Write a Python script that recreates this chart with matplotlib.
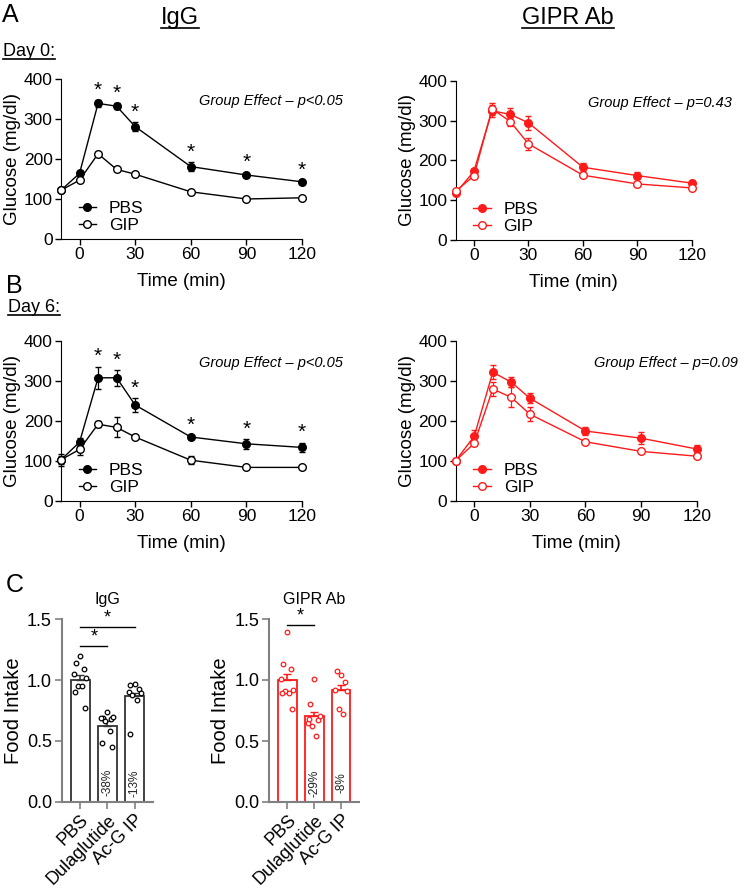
import matplotlib
matplotlib.use("Agg")
import matplotlib.pyplot as plt
from matplotlib.lines import Line2D
import numpy as np

plt.rcParams['font.family'] = ['Liberation Sans', 'DejaVu Sans']

# ---- glucose curves ----
t = [-10, 0, 10, 20, 30, 60, 90, 120]

igg_d0_pbs = [122, 164, 339, 332, 281, 181, 160, 143]
igg_d0_pbs_se = [4, 6, 8, 7, 12, 12, 6, 5]
igg_d0_gip = [122, 147, 213, 174, 162, 118, 100, 103]
igg_d0_gip_se = [4, 5, 5, 4, 3, 4, 3, 3]

gipr_d0_pbs = [118, 173, 325, 316, 295, 183, 162, 143]
gipr_d0_pbs_se = [5, 6, 15, 15, 18, 10, 8, 6]
gipr_d0_gip = [123, 161, 330, 298, 242, 163, 141, 131]
gipr_d0_gip_se = [4, 4, 15, 10, 15, 4, 4, 3]

igg_d6_pbs = [103, 147, 308, 308, 240, 160, 143, 134]
igg_d6_pbs_se = [10, 10, 28, 20, 18, 5, 12, 12]
igg_d6_gip = [103, 129, 192, 184, 160, 102, 84, 84]
igg_d6_gip_se = [15, 15, 8, 25, 4, 10, 3, 3]

gipr_d6_pbs = [101, 162, 322, 297, 257, 175, 157, 130]
gipr_d6_pbs_se = [4, 15, 18, 13, 12, 10, 15, 10]
gipr_d6_gip = [101, 144, 280, 259, 217, 148, 124, 112]
gipr_d6_gip_se = [4, 5, 18, 25, 18, 4, 4, 4]

star_times = [10, 20, 30, 60, 90, 120]

# ---- food intake ----
groups = ['PBS', 'Dulaglutide', 'Ac-G IP']
igg_fi = [1.0, 0.62, 0.87]
igg_fi_se = [0.04, 0.04, 0.025]
igg_pts = [[1.20, 1.14, 1.09, 1.05, 1.02, 0.95, 0.95, 0.90, 0.77],
           [0.74, 0.69, 0.68, 0.69, 0.695, 0.66, 0.58, 0.48, 0.45],
           [0.97, 0.96, 0.93, 0.90, 0.89, 0.875, 0.84, 0.56]]
igg_pct = ['', '-38%', '-13%']

gipr_fi = [1.0, 0.705, 0.915]
gipr_fi_se = [0.05, 0.035, 0.04]
gipr_pts = [[1.39, 1.13, 1.09, 1.005, 0.92, 0.91, 0.89, 0.89, 0.76],
            [1.01, 0.80, 0.67, 0.65, 0.705, 0.62, 0.54, 0.68],
            [1.04, 1.07, 0.98, 0.92, 0.91, 0.76, 0.725]]
gipr_pct = ['', '-29%', '-8%']

# horizontal scatter pattern for the dots (styling only)
jitter = [0.0, -0.15, 0.15, -0.22, 0.22, -0.08, 0.08, -0.18, 0.18]

RED = '#ff1a1a'
W, H = 754, 890
fig = plt.figure(figsize=(W / 100, H / 100), dpi=100)


def px_axes(x0, y0, x1, y1):
    return fig.add_axes([x0 / W, 1 - y1 / H, (x1 - x0) / W, (y1 - y0) / H])


def glucose(ax, pbs, pbs_se, gip, gip_se, color, ptext, stars=False):
    for y, se, fc in [(pbs, pbs_se, color), (gip, gip_se, 'white')]:
        eb = ax.errorbar(t, y, yerr=se, color=color, marker='o', ms=5.5, lw=1,
                         mfc=fc, mec=color, mew=1, capsize=2, elinewidth=0.9, zorder=3)
        for a in eb.lines[0:1] + tuple(eb.lines[1]) + tuple(eb.lines[2]):
            a.set_clip_on(False)
    ax.set_xlim(-10, 120)
    ax.set_ylim(0, 400)
    ax.set_xticks([0, 30, 60, 90, 120])
    ax.set_yticks([0, 100, 200, 300, 400])
    ax.spines['top'].set_visible(False)
    ax.spines['right'].set_visible(False)
    ax.tick_params(labelsize=12.5, length=4, width=1, pad=2)
    ax.set_xlabel('Time (min)', fontsize=13.5, labelpad=8)
    ax.set_ylabel('Glucose (mg/dl)', fontsize=13.5, labelpad=2)
    ax.text(1.17, 0.86, ptext, transform=ax.transAxes, ha='right', va='center',
            fontsize=10.5, style='italic')
    if stars:
        for tt in star_times:
            i = t.index(tt)
            ax.text(tt, pbs[i] + pbs_se[i] + 1, '*', ha='center', va='bottom', fontsize=15)
    handles = [Line2D([], [], color=color, marker='o', ms=5.5, lw=1, mfc=color, mec=color),
               Line2D([], [], color=color, marker='o', ms=5.5, lw=1, mfc='white', mec=color)]
    ax.legend(handles, ['PBS', 'GIP'], loc='lower left', bbox_to_anchor=(0.03, -0.03),
              frameon=False, fontsize=12.5, handlelength=1.0, handletextpad=0.75,
              labelspacing=0.1, borderpad=0.1)


def food(ax, means, ses, pts, pct, color, edge, title, sigs):
    x = np.arange(len(groups))
    ax.bar(x, means, width=0.7, color='white', edgecolor=edge, linewidth=1.3, zorder=1)
    ax.errorbar(x, means, yerr=[np.zeros(3), ses], fmt='none', ecolor=edge,
                capsize=3, elinewidth=1.2, zorder=2)
    for i, p in enumerate(pts):
        offs = np.array(jitter[:len(p)])
        ax.scatter(i + offs, p, s=11, facecolor='white', edgecolor=color, linewidth=0.9, zorder=3)
        if pct[i]:
            ax.text(i, 0.155, pct[i], rotation=90, ha='center', va='center', fontsize=8.5,
                    color='#222222')
    for (a, b, y) in sigs:
        ax.plot([a, b], [y, y], color='black', lw=1)
        ax.text((a + b) / 2, y + 0.005, '*', ha='center', va='bottom', fontsize=13)
    ax.set_ylim(0, 1.5)
    ax.set_xlim(-0.68, 2.68)
    ax.set_yticks([0, 0.5, 1.0, 1.5])
    ax.set_yticklabels(['0.0', '0.5', '1.0', '1.5'])
    ax.set_xticks(x)
    ax.set_xticklabels(groups, rotation=45, ha='right', rotation_mode='anchor')
    for s in ['top', 'right']:
        ax.spines[s].set_visible(False)
    for s in ['left', 'bottom']:
        ax.spines[s].set_color('#808080')
        ax.spines[s].set_linewidth(1.5)
    ax.tick_params(labelsize=13, length=5, width=1.2, color='#808080', pad=2)
    ax.set_ylabel('Food Intake', fontsize=14.5, labelpad=3)
    ax.set_title(title, fontsize=11.5, pad=11)


ax1 = px_axes(61, 79, 302, 239)
glucose(ax1, igg_d0_pbs, igg_d0_pbs_se, igg_d0_gip, igg_d0_gip_se, 'black',
        'Group Effect \u2013 p<0.05', stars=True)
ax2 = px_axes(455.7, 81, 692, 240)
glucose(ax2, gipr_d0_pbs, gipr_d0_pbs_se, gipr_d0_gip, gipr_d0_gip_se, RED,
        'Group Effect \u2013 p=0.43')
ax3 = px_axes(61, 341, 302, 501)
glucose(ax3, igg_d6_pbs, igg_d6_pbs_se, igg_d6_gip, igg_d6_gip_se, 'black',
        'Group Effect \u2013 p<0.05', stars=True)
ax4 = px_axes(455.7, 341, 696.7, 501)
glucose(ax4, gipr_d6_pbs, gipr_d6_pbs_se, gipr_d6_gip, gipr_d6_gip_se, RED,
        'Group Effect \u2013 p=0.09')

ax5 = px_axes(61.7, 619.3, 153, 801.7)
food(ax5, igg_fi, igg_fi_se, igg_pts, igg_pct, 'black', '#333333', 'IgG',
     [(0, 1, 1.28), (0, 2, 1.44)])
ax6 = px_axes(269, 619, 359.3, 802)
food(ax6, gipr_fi, gipr_fi_se, gipr_pts, gipr_pct, RED, RED, 'GIPR Ab',
     [(0, 1, 1.45)])

# panel letters and headers
fig.canvas.draw()
renderer = fig.canvas.get_renderer()


def underlined(x, y, s, size, ha='left'):
    txt = fig.text(x / W, 1 - y / H, s, fontsize=size, ha=ha, va='baseline')
    bb = txt.get_window_extent(renderer)
    yl = (1 - y / H) - size * 0.15 / 72 * 100 / H
    fig.add_artist(Line2D([bb.x0 / W, bb.x1 / W], [yl, yl], color='black', lw=1.2))


fig.text(2 / W, 1 - 22 / H, 'A', fontsize=18, va='baseline')
fig.text(6 / W, 1 - 293 / H, 'B', fontsize=18, va='baseline')
fig.text(6 / W, 1 - 592 / H, 'C', fontsize=18, va='baseline')
underlined(180, 24, 'IgG', 17, ha='center')
underlined(568, 24, 'GIPR Ab', 17, ha='center')
underlined(3, 56, 'Day 0:', 13)
underlined(8, 312, 'Day 6:', 13)

fig.savefig('out.png', dpi=100)
